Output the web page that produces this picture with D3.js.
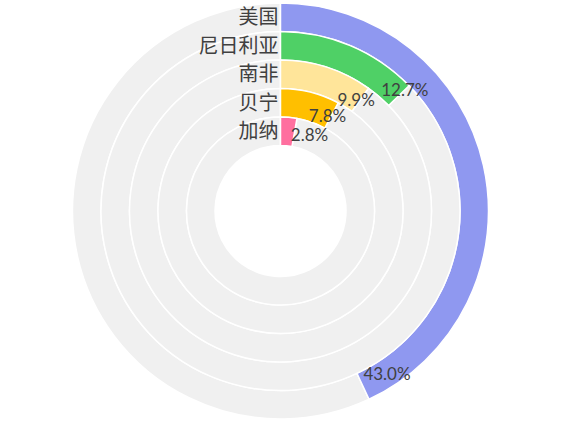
<!DOCTYPE html>
<html>
<head>
<meta charset="utf-8">
<script src="https://cdn.jsdelivr.net/npm/d3@7"></script>
<style>
  html, body { margin: 0; padding: 0; background: #ffffff; }
  svg { display: block; }
</style>
</head>
<body>
<div id="chart"></div>
<script>
// ---- data ----
const categories = ["美国", "尼日利亚", "南非", "贝宁", "加纳"];
const values = [43.0, 12.7, 9.9, 7.8, 2.8];          // percent
const valueLabels = ["43.0%", "12.7%", "9.9%", "7.8%", "2.8%"];

// ---- styles ----
const colors = ["#8F98F0", "#4FD066", "#FFE59A", "#FFBF00", "#FF6F9F"];
const trackColor = "#F0F0F0";
const labelOffsets = [[24, -12], [6, -6], [-4, 0], [-4, 1], [15, 3]];

const W = 571, H = 430;
const cx = 280.5, cy = 211;
const outerR = 208, innerR = 65.5;

const svg = d3.select("#chart").append("svg")
  .attr("width", W).attr("height", H);

const g = svg.append("g").attr("transform", `translate(${cx},${cy})`);

const angle = d3.scaleLinear().domain([0, 100]).range([0, 2 * Math.PI]);
// band scale: first category outermost
const ring = d3.scaleBand().domain(categories.slice().reverse()).range([innerR, outerR]);
const bw = ring.bandwidth();

const arc = d3.arc();

categories.forEach((c, i) => {
  const ri = ring(c);
  const ro = ri + bw;
  const end = angle(values[i]);
  g.append("path")
    .attr("d", arc({innerRadius: ri, outerRadius: ro, startAngle: end, endAngle: 2 * Math.PI}))
    .attr("fill", trackColor)
    .attr("stroke", "#ffffff")
    .attr("stroke-width", 1.5);
  g.append("path")
    .attr("d", arc({innerRadius: ri, outerRadius: ro, startAngle: 0, endAngle: end}))
    .attr("fill", colors[i])
    .attr("stroke", "#ffffff")
    .attr("stroke-width", 1.5);
});

// category labels
categories.forEach((c, i) => {
  const rm = ring(c) + bw / 2;
  g.append("text")
    .attr("x", -2)
    .attr("y", -rm)
    .attr("dy", "0.36em")
    .attr("text-anchor", "end")
    .attr("font-family", "'Noto Sans CJK SC', sans-serif")
    .attr("font-size", 20)
    .attr("fill", "#404040")
    .text(c);
});

// value labels at arc ends
categories.forEach((c, i) => {
  const rm = ring(c) + bw / 2;
  const a = angle(values[i]);
  const x = rm * Math.sin(a) + labelOffsets[i][0];
  const y = -rm * Math.cos(a) + labelOffsets[i][1];
  g.append("text")
    .attr("x", x)
    .attr("y", y)
    .attr("dy", "0.35em")
    .attr("text-anchor", "middle")
    .attr("font-family", "Lato, 'Open Sans', sans-serif")
    .attr("font-size", 17)
    .attr("fill", "#404040")
    .text(valueLabels[i]);
});
</script>
</body>
</html>
